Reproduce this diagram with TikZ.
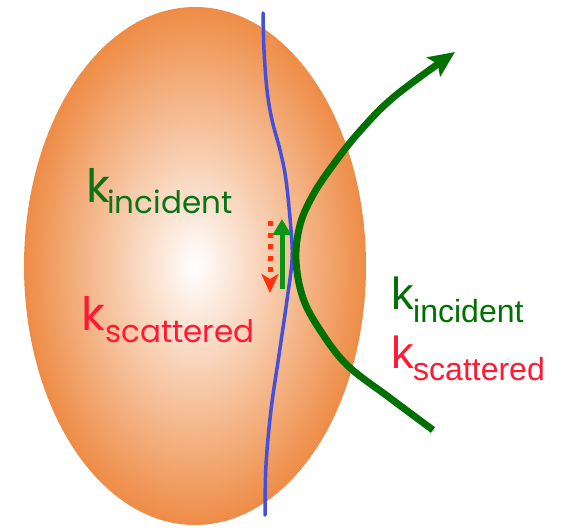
\documentclass[tikz,border=0pt]{standalone}
\usepackage{fontspec}
\setmainfont{Liberation Sans}
\newfontfamily\geofont{Poppins}
\usetikzlibrary{arrows.meta}
\definecolor{orb}{RGB}{238,140,70}
\definecolor{membrane}{RGB}{68,80,220}
\definecolor{rayg}{RGB}{0,112,0}
\definecolor{arrg}{RGB}{10,150,20}
\definecolor{arrr}{RGB}{255,50,10}
\definecolor{txtg}{RGB}{10,115,20}
\definecolor{txtr}{RGB}{255,25,50}
\tikzset{
  lbl/.style={inner sep=0pt,anchor=base west},
  bigL/.style={lbl,font=\geofont\fontsize{46}{46}\selectfont},
  subL/.style={lbl,font=\geofont\fontsize{31}{31}\selectfont},
  bigR/.style={lbl,font=\fontsize{45}{45}\selectfont},
  subR/.style={lbl,font=\fontsize{32}{32}\selectfont},
}
\begin{document}
\begin{tikzpicture}[x=1pt,y=-1pt]
\useasboundingbox (0,0) rectangle (564,527);
% orb
\shade[inner color=white,outer color=orb] (195,266) ellipse [x radius=171,y radius=259];
% membrane line
\draw[membrane,line width=3.5pt,line cap=round] plot[smooth,tension=0.6] coordinates
 {(263,13) (264,50) (267,90) (272,120) (280,150) (286,180) (291,230) (292,260) (287,300) (279,355) (271,410) (266,465) (265,515)};
% incident/scattered ray
\draw[rayg,line width=7pt,-{Stealth[length=26pt,width=23pt,inset=5pt]}] plot[smooth,tension=0.6] coordinates
 {(433,430) (390,398) (347,365) (320,330) (303,298) (296,260) (300,225) (313,195) (333,165) (360,131) (395,96) (455,52)};
% small arrows
\coordinate (gs) at (282,289);
\coordinate (ge) at (282,219);
\draw[arrg,line width=5pt,-{Triangle[length=16pt,width=18pt]}] (gs) -- (ge);
\coordinate (rs) at (270,221);
\coordinate (re) at (270,293);
\draw[arrr,line width=5pt,dash pattern=on 5pt off 6.5pt,-{Stealth[length=19pt,width=17pt,inset=5pt]}] (rs) -- (re);
% labels left
\node[bigL,txtg] (kil) at (86,202) {k};
\node[subL,txtg] (sil) at (107,213) {incident};
\node[bigL,txtr] (ksl) at (81,330) {k};
\node[subL,txtr] (ssl) at (105,342) {scattered};
% labels right
\node[bigR,rayg] (kir) at (391,309) {k};
\node[subR,rayg] (sir) at (413,322) {incident};
\node[bigR,txtr] (ksr) at (391,368) {k};
\node[subR,txtr] (ssr) at (413,380) {scattered};
\end{tikzpicture}
\end{document}
